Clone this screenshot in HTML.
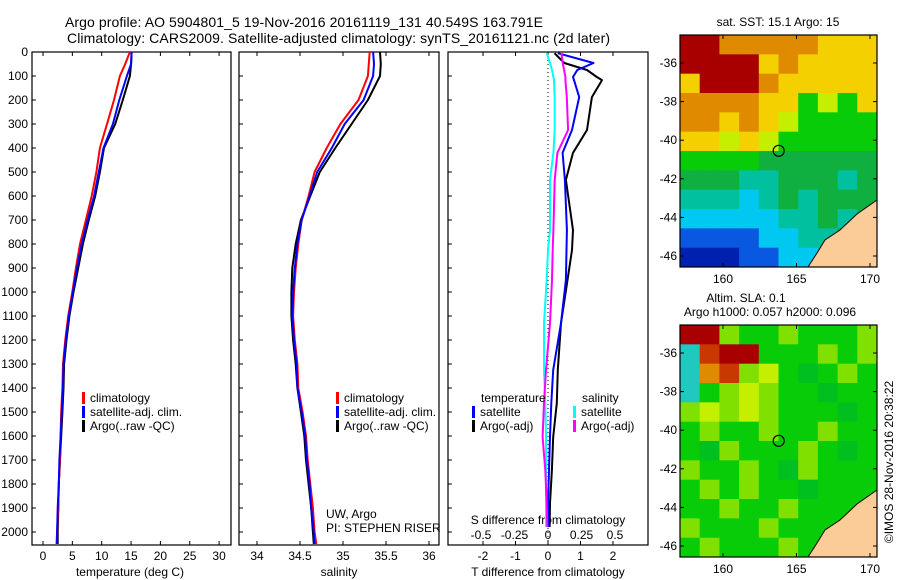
<!DOCTYPE html>
<html><head><meta charset="utf-8"><style>
html,body{margin:0;padding:0;background:#fff;}
svg{display:block;font-family:"Liberation Sans",sans-serif;}
</style></head><body>
<svg id="c" width="900" height="580" viewBox="0 0 900 580" xmlns="http://www.w3.org/2000/svg">
<rect width="900" height="580" fill="#fff"/>
<text x="65" y="27" font-size="14" textLength="478">Argo profile: AO 5904801_5 19-Nov-2016 20161119_131 40.549S 163.791E</text>
<text x="67" y="43" font-size="14" textLength="543">Climatology: CARS2009. Satellite-adjusted climatology: synTS_20161121.nc (2d later)</text>
<g id="g"></g>
</svg>
<script>
const depths=[0,50,100,200,300,400,500,600,700,800,900,1000,1100,1200,1300,1400,1500,1600,1700,1800,1900,2000,2050];
const tempClim=[14.8,14.0,13.1,12.1,10.9,9.7,9.1,8.3,7.3,6.3,5.6,5.0,4.3,3.8,3.4,3.3,3.1,3.0,2.9,2.7,2.6,2.4,2.3];
const tempSat=[15.1,15.0,14.3,13.0,11.9,10.3,9.5,8.7,7.6,6.6,5.8,5.1,4.4,3.9,3.5,3.4,3.2,3.0,2.8,2.7,2.5,2.4,2.4];
const tempArgo=[15.1,15.0,14.8,13.6,12.3,10.4,9.7,8.9,7.8,6.8,6.0,5.2,4.5,4.0,3.6,3.5,3.3,3.1,2.9,2.7,2.6,2.5,2.5];
const salClim=[35.31,35.30,35.29,35.18,34.97,34.81,34.67,34.60,34.52,34.48,34.45,34.43,34.42,34.44,34.47,34.48,34.53,34.57,34.59,34.62,34.65,34.67,34.69];
const salSat=[35.35,35.36,35.35,35.24,35.02,34.87,34.70,34.61,34.52,34.47,34.44,34.42,34.41,34.43,34.46,34.47,34.52,34.56,34.58,34.61,34.63,34.66,34.67];
const salArgo=[35.43,35.44,35.43,35.29,35.10,34.91,34.73,34.62,34.51,34.45,34.41,34.40,34.40,34.42,34.45,34.47,34.51,34.55,34.57,34.60,34.63,34.65,34.66];
const diffDepths=[5,46,75,104,117,188,325,420,533,742,825,950,1130,1325,1463,1604,1742,1880,1979];
const dTsat=[0.3,1.4,0.9,0.77,0.8,0.96,0.74,0.45,0.52,0.58,0.57,0.55,0.4,0.16,0.1,0.06,0.03,0.0,0.0];
const dTargo=[0.2,0.5,1.2,1.5,1.66,1.35,1.2,0.77,0.55,0.77,0.74,0.6,0.4,0.3,0.27,0.16,0.12,0.06,0.05];
const dSsat=[-0.01,0.015,0.03,0.04,0.045,0.05,0.05,0.04,0.015,0.015,0.0,-0.01,-0.03,-0.03,-0.02,-0.015,-0.015,-0.015,-0.015];
const dSargo=[0.1,0.11,0.12,0.13,0.13,0.14,0.15,0.07,0.05,0.04,0.035,0.03,0.015,-0.015,-0.03,-0.04,-0.02,-0.01,-0.005];
const depthTicks=[0,100,200,300,400,500,600,700,800,900,1000,1100,1200,1300,1400,1500,1600,1700,1800,1900,2000];
const tTicks=[0,5,10,15,20,25,30];
const sTicks=[34,34.5,35,35.5,36];
const dtTicks=[-2,-1,0,1,2];
const dsTicks=[-0.5,-0.25,0,0.25,0.5];
const dsLabels=["-0.5","-0.25","0","0.25","0.5"];
const lonTicks=[160,165,170];
const latTicks=[-36,-38,-40,-42,-44,-46];
const argoLon=163.79, argoLat=-40.55;

const NS="http://www.w3.org/2000/svg";const G=document.getElementById('g');
function el(t,a,p){const e=document.createElementNS(NS,t);for(const k in a)e.setAttribute(k,a[k]);(p||G).appendChild(e);return e;}
function txt(x,y,s,anchor,size,name){const e=el('text',{x:x,y:y,'font-size':size||12,'text-anchor':anchor||'start'});e.textContent=s;

return e;}
const yD=d=>52+d*0.24;
const xT=v=>43+v*5.87, xS=v=>257+(v-34)*86, xdT=v=>548+v*32.5, xdS=v=>548+v*134;
function frame(x0,x1,name){const r=el('rect',{x:x0,y:52,width:x1-x0,height:493,fill:'none',stroke:'#000','stroke-width':1.2});

}
function line(ds,vs,fx,col,name,w){let p='';ds.forEach((d,i)=>{p+=(i?'L':'M')+fx(vs[i]).toFixed(1)+','+yD(d).toFixed(1);});
const e=el('path',{d:p,fill:'none',stroke:col,'stroke-width':w||2,'stroke-linejoin':'round'});

}
function yAxis(x0){depthTicks.forEach(d=>{el('line',{x1:x0,x2:x0+4,y1:yD(d),y2:yD(d),stroke:'#000'});});}
function xTicks(vals,fx,labels,ly,name){vals.forEach((v,i)=>{const x=fx(v);el('line',{x1:x,x2:x,y1:545,y2:541,stroke:'#000'});el('line',{x1:x,x2:x,y1:52,y2:56,stroke:'#000'});
if(ly)txt(x,ly,labels?labels[i]:String(v),'middle',12,name);});}
function legend(x,y,items){items.forEach((it,i)=>{const r=el('rect',{x:x,y:y+i*14-10,width:3,height:12,fill:it[0]});


txt(x+8,y+i*14,it[1],'start',12,'legend-entry');});}

// Panel 1
frame(32,231,'temperature-panel');yAxis(32);
depthTicks.forEach(d=>txt(28,yD(d)+4,String(d),'end',12,'depth-tick-label'));
xTicks(tTicks,xT,null,560,'temperature-tick-label');
txt(130,576,'temperature (deg C)','middle',12,'temperature-axis-title');
line(depths,tempArgo,xT,'#000','temp-argo-line');
line(depths,tempClim,xT,'#f00','temp-climatology-line');
line(depths,tempSat,xT,'#00f','temp-satellite-line');
legend(82,402,[['#f00','climatology'],['#00f','satellite-adj. clim.'],['#000','Argo(..raw -QC)']]);
// Panel 2
frame(239,439,'salinity-panel');yAxis(239);
xTicks(sTicks,xS,null,560,'salinity-tick-label');
txt(339,576,'salinity','middle',12,'salinity-axis-title');
line(depths,salArgo,xS,'#000','sal-argo-line');
line(depths,salClim,xS,'#f00','sal-climatology-line');
line(depths,salSat,xS,'#00f','sal-satellite-line');
legend(336,402,[['#f00','climatology'],['#00f','satellite-adj. clim.'],['#000','Argo(..raw -QC)']]);
txt(326,518,'UW, Argo','start',12,'institution-label');
txt(326,532,'PI: STEPHEN RISER','start',12,'pi-label');
// Panel 3
frame(448,648,'difference-panel');yAxis(448);
el('line',{x1:548,x2:548,y1:56,y2:545,stroke:'#000','stroke-dasharray':'1,3'});
xTicks(dtTicks,xdT,null,560,'t-diff-tick-label');
dsTicks.forEach((v,i)=>txt(xdS(v),539,dsLabels[i],'middle',12,'s-diff-tick-label'));
txt(548,524,'S difference from climatology','middle',12,'s-diff-axis-title');
txt(548,576,'T difference from climatology','middle',12,'t-diff-axis-title');
line(diffDepths,dTargo,xdT,'#000','t-diff-argo-line');
line(diffDepths,dTsat,xdT,'#00f','t-diff-satellite-line');
line(diffDepths,dSsat,xdS,'#0ff','s-diff-satellite-line');
line(diffDepths,dSargo,xdS,'#f0f','s-diff-argo-line');
txt(481,402,'temperature','start',12,'legend-header-temperature');
txt(582,402,'salinity','start',12,'legend-header-salinity');
legend(472,416,[['#00f','satellite'],['#000','Argo(-adj)']]);
legend(573,416,[['#0ff','satellite'],['#f0f','Argo(-adj)']]);

// Maps
const C={R:'#a80000',r:'#c83800',O:'#e08a00',o:'#d06810',Y:'#f4d000',L:'#c4f000',l:'#80e000',G:'#08cc08',g:'#10b040',h:'#00c020',T:'#00c0a0',C:'#00c8f0',B:'#0858e0',D:'#0020b0',S:'#fccc98',K:'#20c8c0'};
const sstGrid=["RROOOOOYYY","RRRRYOYYYY","YRRROYYYYY","OOOOYYGLGY","OOYOYLGGGG","YYLYLGGGGG","GGGGgggggg","gggTTgggTg","TTTCTgTggg","CCCCCTTgTg","BBBBCCTTgg","DDDBBCCTgg"];
const slaGrid=["RRlGGlGGGl","KrRRGGGlGl","KOrlLGhGlG","KGlLlGGhGG","lLlLlGGGhG","GlGGlGGlGG","GhlGGGlGhG","lGGlGhlGGG","GlGlGGhGGG","GGlGGlGGGG","lGGGlGGGGG","GlGGGlGGGG"];
const lonX=l=>723+(l-160)*14.7;
function map(y0,grid,name){const x0=680,w=197,h=232;const g=el('g',{});


const cw=w/10,ch=h/12;grid.forEach((row,r)=>{[...row].forEach((k,c)=>{el('rect',{x:x0+c*cw,y:y0+r*ch,width:cw+0.5,height:ch+0.5,fill:C[k]},g);});});
const latY=l=>y0+28+(-36-l)*19.3;
const land=el('polygon',{points:[[877,y0+165],[857,y0+179],[840,y0+195],[825,y0+205],[817,y0+218],[808,y0+232],[877,y0+232]].map(p=>p.join(',')).join(' '),fill:C.S,stroke:'#000','stroke-width':1},g);


el('rect',{x:x0,y:y0,width:w,height:h,fill:'none',stroke:'#000','stroke-width':1.2},g);
lonTicks.forEach(l=>{el('line',{x1:lonX(l),x2:lonX(l),y1:y0,y2:y0+4,stroke:'#000'},g);el('line',{x1:lonX(l),x2:lonX(l),y1:y0+h,y2:y0+h-4,stroke:'#000'},g);txt(lonX(l),y0+h+16,String(l),'middle',12,'longitude-tick-label');});
latTicks.forEach(l=>{el('line',{x1:x0,x2:x0+4,y1:latY(l),y2:latY(l),stroke:'#000'},g);el('line',{x1:x0+w,x2:x0+w-4,y1:latY(l),y2:latY(l),stroke:'#000'},g);txt(x0-3,latY(l)+4,String(l),'end',12,'latitude-tick-label');});
const m=el('circle',{cx:lonX(argoLon),cy:latY(argoLat),r:5.5,fill:'none',stroke:'#000','stroke-width':1.2},g);

}
map(35,sstGrid,'sst-map');
map(325,slaGrid,'sla-map');
txt(778,26,'sat. SST: 15.1 Argo: 15','middle',12,'sst-map-title');
txt(746,302,'Altim. SLA: 0.1','middle',12,'sla-map-title');
txt(770,316,'Argo h1000: 0.057 h2000: 0.096','middle',12,'sla-map-subtitle');
const im=txt(0,0,'©IMOS 28-Nov-2016 20:38:22','middle',12,'copyright-timestamp');
im.setAttribute('transform','translate(893,462) rotate(-90)');
</script>
</body></html>
